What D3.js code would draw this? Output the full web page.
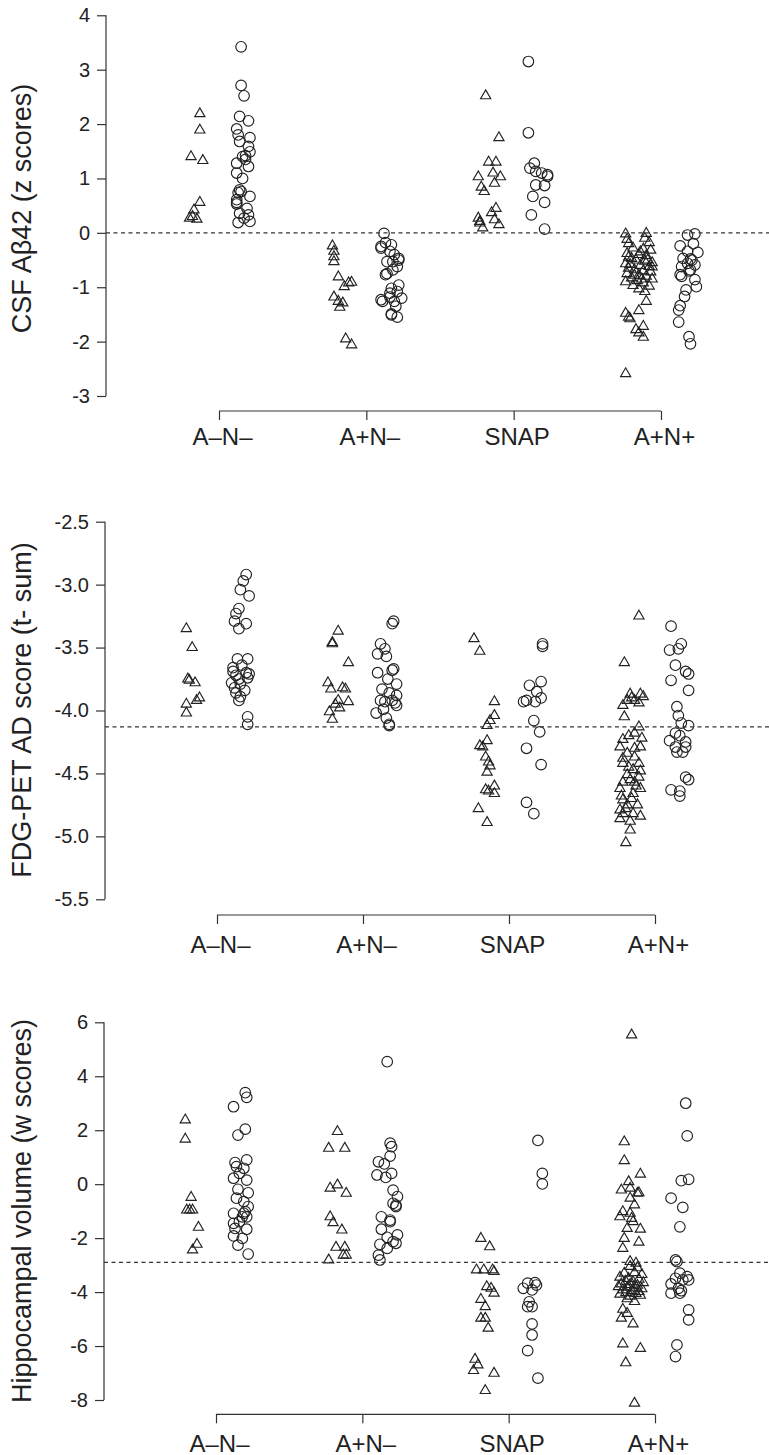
<!DOCTYPE html>
<html>
<head>
<meta charset="utf-8">
<script src="https://cdn.jsdelivr.net/npm/d3@7"></script>
<style>
  body { margin: 0; background: #fff; }
  svg { display: block; font-family: "Liberation Sans", Arial, Helvetica, sans-serif; }
</style>
</head>
<body>
<div id="chart"></div>
<script>
var groups = ["A\u2013N\u2013", "A+N\u2013", "SNAP", "A+N+"];

var yTitles = ["CSF A\u03b242 (z scores)", "FDG-PET AD score (t- sum)", "Hippocampal volume (w scores)"];
var yDomains = [[-3, 4], [-5.5, -2.5], [-8, 6]];
var yTicks = [
  [4, 3, 2, 1, 0, -1, -2, -3],
  [-2.5, -3.0, -3.5, -4.0, -4.5, -5.0, -5.5],
  [6, 4, 2, 0, -2, -4, -6, -8]
];
var cutoffs = [0, -4.13, -2.9];

// [jitter (in group units), value]
var csfTri = [
  [[-0.13,2.19],[-0.13,1.89],[-0.19,1.40],[-0.11,1.33],[-0.13,0.56],[-0.17,0.42],[-0.20,0.27],[-0.15,0.25],[-0.18,0.30]],
  [[-0.23,-0.24],[-0.22,-0.34],[-0.22,-0.44],[-0.22,-0.53],[-0.19,-0.81],[-0.15,-0.99],[-0.12,-0.92],[-0.10,-0.91],
   [-0.22,-1.18],[-0.19,-1.26],[-0.16,-1.29],[-0.18,-1.37],[-0.14,-1.95],[-0.10,-2.06]],
  [[-0.19,2.52],[-0.10,1.75],[-0.17,1.30],[-0.12,1.30],[-0.24,1.03],[-0.14,1.10],[-0.09,1.03],[-0.13,0.91],[-0.22,0.84],
   [-0.20,0.76],[-0.12,0.45],[-0.15,0.37],[-0.24,0.27],[-0.23,0.21],[-0.13,0.24],[-0.10,0.15],[-0.21,0.09],[-0.23,0.18]],
  [[-0.24,-0.02],[-0.10,-0.01],[-0.23,-0.12],[-0.11,-0.10],[-0.22,-0.20],[-0.08,-0.18],[-0.19,-0.28],[-0.12,-0.30],
   [-0.07,-0.32],[-0.23,-0.38],[-0.15,-0.40],[-0.10,-0.42],[-0.20,-0.47],[-0.17,-0.50],[-0.11,-0.52],[-0.06,-0.55],
   [-0.24,-0.57],[-0.14,-0.60],[-0.08,-0.62],[-0.22,-0.65],[-0.18,-0.68],[-0.12,-0.70],[-0.07,-0.72],[-0.23,-0.75],
   [-0.15,-0.78],[-0.10,-0.80],[-0.20,-0.83],[-0.06,-0.85],[-0.16,-0.88],[-0.24,-0.90],[-0.12,-0.92],[-0.19,-0.97],
   [-0.08,-0.98],[-0.15,-1.03],[-0.11,-1.08],[-0.22,-0.45],[-0.09,-0.50],[-0.18,-0.78],[-0.14,-0.35],[-0.06,-0.63],
   [-0.21,-0.58],[-0.13,-0.85],[-0.10,-1.26],[-0.15,-1.43],[-0.24,-1.48],[-0.22,-1.55],[-0.21,-1.58],[-0.12,-1.72],
   [-0.17,-1.78],[-0.15,-1.84],[-0.12,-1.92],[-0.24,-2.59]]
];
var csfCirc = [
  [[0.15,3.42],[0.15,2.71],[0.17,2.52],[0.14,2.14],[0.20,2.06],[0.12,1.91],[0.13,1.80],[0.21,1.75],[0.14,1.68],[0.20,1.59],
   [0.21,1.49],[0.18,1.42],[0.18,1.35],[0.20,1.22],[0.12,1.28],[0.12,1.10],[0.16,1.00],[0.14,0.79],[0.13,0.74],[0.21,0.67],
   [0.12,0.61],[0.12,0.53],[0.19,0.45],[0.14,0.36],[0.20,0.33],[0.13,0.19],[0.21,0.21],[0.15,0.76],[0.12,0.56],[0.17,0.27],[0.16,1.40]],
  [[0.12,-0.01],[0.13,-0.18],[0.10,-0.28],[0.17,-0.22],[0.16,-0.34],[0.19,-0.40],[0.22,-0.47],[0.18,-0.53],[0.14,-0.53],
   [0.21,-0.62],[0.18,-0.68],[0.14,-0.75],[0.22,-0.96],[0.17,-1.02],[0.21,-1.08],[0.10,-1.23],[0.16,-1.18],[0.19,-1.26],
   [0.24,-1.20],[0.20,-1.35],[0.17,-1.49],[0.21,-1.55],[0.13,-0.77],[0.22,-0.50],[0.16,-1.11],[0.11,-1.26],[0.17,-1.51],[0.10,-0.25]],
  [[0.10,3.15],[0.10,1.84],[0.11,1.19],[0.14,1.28],[0.15,1.13],[0.19,1.10],[0.23,1.07],[0.23,1.04],[0.15,0.88],[0.21,0.87],
   [0.13,0.67],[0.21,0.56],[0.12,0.33],[0.21,0.07]],
  [[0.18,-0.04],[0.23,-0.02],[0.13,-0.24],[0.22,-0.20],[0.18,-0.34],[0.25,-0.36],[0.15,-0.47],[0.20,-0.48],[0.18,-0.56],
   [0.23,-0.59],[0.14,-0.62],[0.20,-0.68],[0.13,-0.77],[0.23,-0.86],[0.24,-0.99],[0.17,-1.05],[0.16,-1.17],[0.13,-1.34],
   [0.12,-1.42],[0.12,-1.64],[0.19,-1.91],[0.20,-2.04],[0.21,-0.50],[0.19,-0.70],[0.14,-0.80]]
];

var fdgTri = [
  [[-0.21,-3.35],[-0.17,-3.50],[-0.20,-3.75],[-0.19,-3.76],[-0.15,-3.78],[-0.12,-3.90],[-0.14,-3.92],[-0.21,-3.95],[-0.21,-4.02]],
  [[-0.17,-3.37],[-0.21,-3.46],[-0.21,-3.47],[-0.10,-3.62],[-0.24,-3.78],[-0.22,-3.83],[-0.14,-3.82],[-0.12,-3.83],
   [-0.17,-3.92],[-0.10,-3.93],[-0.19,-3.95],[-0.16,-3.98],[-0.23,-4.01],[-0.21,-4.07]],
  [[-0.24,-3.43],[-0.20,-3.53],[-0.10,-3.93],[-0.10,-4.04],[-0.13,-4.08],[-0.15,-4.12],[-0.15,-4.24],[-0.20,-4.28],[-0.18,-4.29],
   [-0.16,-4.37],[-0.14,-4.41],[-0.13,-4.44],[-0.15,-4.49],[-0.16,-4.63],[-0.14,-4.64],[-0.10,-4.60],[-0.10,-4.66],[-0.21,-4.78],[-0.15,-4.89]],
  [[-0.11,-3.25],[-0.21,-3.62],[-0.17,-3.87],[-0.10,-3.87],[-0.19,-3.92],[-0.14,-3.92],[-0.22,-3.96],[-0.21,-4.05],[-0.11,-3.94],
   [-0.16,-3.90],[-0.08,-3.89],[-0.11,-4.13],[-0.14,-4.18],[-0.09,-4.22],[-0.22,-4.23],[-0.24,-4.29],[-0.10,-4.29],[-0.19,-4.34],
   [-0.22,-4.38],[-0.14,-4.37],[-0.22,-4.42],[-0.11,-4.42],[-0.15,-4.47],[-0.19,-4.51],[-0.11,-4.53],[-0.22,-4.57],[-0.14,-4.57],
   [-0.24,-4.62],[-0.10,-4.62],[-0.15,-4.66],[-0.22,-4.71],[-0.19,-4.75],[-0.24,-4.79],[-0.22,-4.82],[-0.15,-4.82],[-0.10,-4.84],
   [-0.24,-4.86],[-0.17,-4.95],[-0.20,-5.05],[-0.18,-4.45],[-0.13,-4.60],[-0.16,-4.70],[-0.20,-4.78],[-0.12,-4.75],[-0.17,-4.55],
   [-0.14,-4.30],[-0.18,-4.20],[-0.23,-4.68],[-0.10,-4.48],[-0.17,-4.88]]
];
var fdgCirc = [
  [[0.20,-2.92],[0.18,-2.97],[0.16,-3.04],[0.22,-3.09],[0.15,-3.19],[0.13,-3.23],[0.12,-3.29],[0.20,-3.31],[0.15,-3.35],
   [0.14,-3.59],[0.21,-3.59],[0.11,-3.66],[0.17,-3.64],[0.20,-3.70],[0.13,-3.72],[0.21,-3.74],[0.10,-3.78],[0.16,-3.79],
   [0.12,-3.82],[0.19,-3.84],[0.13,-3.86],[0.16,-3.89],[0.15,-3.92],[0.21,-4.05],[0.21,-4.11],[0.15,-3.75],[0.22,-3.71],[0.11,-3.69]],
  [[0.20,-3.31],[0.21,-3.29],[0.12,-3.47],[0.15,-3.51],[0.10,-3.55],[0.16,-3.57],[0.21,-3.67],[0.10,-3.70],[0.17,-3.75],
   [0.23,-3.79],[0.13,-3.83],[0.18,-3.86],[0.23,-3.88],[0.12,-3.92],[0.15,-3.93],[0.20,-3.92],[0.09,-4.02],[0.16,-4.06],
   [0.18,-4.12],[0.23,-3.96],[0.20,-3.68],[0.14,-3.99],[0.22,-3.94],[0.18,-4.11]],
  [[0.23,-3.47],[0.23,-3.49],[0.22,-3.77],[0.14,-3.80],[0.19,-3.85],[0.22,-3.90],[0.10,-3.93],[0.12,-3.92],[0.18,-3.93],
   [0.17,-4.08],[0.21,-4.17],[0.12,-4.30],[0.22,-4.43],[0.12,-4.73],[0.17,-4.82]],
  [[0.11,-3.33],[0.10,-3.52],[0.16,-3.51],[0.18,-3.47],[0.14,-3.64],[0.21,-3.69],[0.23,-3.71],[0.11,-3.76],[0.23,-3.84],
   [0.15,-3.97],[0.16,-4.04],[0.18,-4.10],[0.23,-4.12],[0.14,-4.18],[0.17,-4.20],[0.10,-4.24],[0.21,-4.25],[0.14,-4.29],
   [0.21,-4.29],[0.19,-4.33],[0.15,-4.33],[0.21,-4.53],[0.23,-4.55],[0.11,-4.63],[0.17,-4.64],[0.17,-4.68]]
];

var hipTri = [
  [[-0.21,2.38],[-0.21,1.67],[-0.17,-0.49],[-0.20,-0.96],[-0.18,-0.96],[-0.16,-0.96],[-0.12,-1.60],[-0.13,-2.23],[-0.16,-2.44]],
  [[-0.17,1.95],[-0.23,1.33],[-0.12,1.33],[-0.17,-0.03],[-0.22,-0.15],[-0.11,-0.34],[-0.22,-1.21],[-0.20,-1.43],[-0.14,-1.70],
   [-0.18,-2.34],[-0.12,-2.34],[-0.13,-2.63],[-0.11,-2.63],[-0.23,-2.81]],
  [[-0.19,-2.01],[-0.13,-2.32],[-0.22,-3.18],[-0.17,-3.18],[-0.11,-3.18],[-0.10,-3.24],[-0.15,-3.80],[-0.12,-3.86],[-0.10,-4.04],
   [-0.19,-4.27],[-0.16,-4.54],[-0.19,-4.97],[-0.16,-4.97],[-0.14,-5.34],[-0.23,-6.49],[-0.21,-6.70],[-0.24,-6.91],[-0.10,-7.01],[-0.16,-7.65]],
  [[-0.16,5.53],[-0.21,1.57],[-0.21,0.87],[-0.10,0.37],[-0.18,0.09],[-0.23,-0.22],[-0.17,-0.15],[-0.11,-0.32],[-0.17,-0.52],
   [-0.14,-0.77],[-0.22,-1.02],[-0.17,-1.08],[-0.24,-1.21],[-0.15,-1.39],[-0.19,-1.64],[-0.10,-1.67],[-0.21,-2.01],[-0.11,-2.15],
   [-0.22,-2.38],[-0.17,-2.87],[-0.13,-2.93],[-0.12,-0.34],[-0.16,-1.27],
   [-0.17,-3.05],[-0.12,-3.10],[-0.21,-3.30],[-0.14,-3.28],[-0.09,-3.35],[-0.24,-3.45],[-0.18,-3.50],[-0.11,-3.52],[-0.20,-3.60],
   [-0.15,-3.62],[-0.08,-3.65],[-0.23,-3.70],[-0.17,-3.72],[-0.12,-3.75],[-0.25,-3.80],[-0.19,-3.82],[-0.14,-3.85],[-0.09,-3.88],
   [-0.22,-3.92],[-0.16,-3.95],[-0.11,-3.98],[-0.20,-4.02],[-0.13,-4.05],[-0.24,-4.08],[-0.17,-4.15],[-0.10,-4.12],[-0.19,-4.25],
   [-0.14,-4.35],[-0.22,-4.64],[-0.19,-4.79],[-0.23,-4.97],[-0.15,-5.18],[-0.22,-5.92],[-0.10,-6.09],[-0.20,-6.62],[-0.14,-8.12]]
];
var hipCirc = [
  [[0.20,3.39],[0.21,3.22],[0.12,2.87],[0.20,2.04],[0.15,1.82],[0.21,0.90],[0.13,0.80],[0.14,0.65],[0.19,0.59],[0.16,0.40],
   [0.12,0.22],[0.21,0.15],[0.15,-0.19],[0.22,-0.32],[0.14,-0.52],[0.19,-0.65],[0.22,-0.83],[0.20,-1.02],[0.12,-1.08],[0.18,-1.21],
   [0.21,-1.21],[0.12,-1.45],[0.16,-1.39],[0.21,-1.67],[0.12,-1.92],[0.18,-2.01],[0.15,-2.26],[0.22,-2.59],[0.19,-1.08],[0.13,-1.64]],
  [[0.17,4.54],[0.19,1.52],[0.20,1.39],[0.19,1.04],[0.11,0.83],[0.15,0.75],[0.10,0.34],[0.16,0.25],[0.20,0.40],[0.21,-0.22],
   [0.24,-0.46],[0.21,-0.71],[0.23,-0.83],[0.13,-1.21],[0.19,-1.39],[0.13,-1.67],[0.24,-1.88],[0.17,-1.97],[0.21,-2.13],
   [0.12,-2.23],[0.17,-2.38],[0.11,-2.63],[0.12,-2.81],[0.19,-1.33],[0.23,-2.19],[0.23,-0.78]],
  [[0.20,1.62],[0.23,0.40],[0.23,0.01],[0.13,-3.67],[0.18,-3.65],[0.19,-3.74],[0.10,-3.86],[0.16,-3.92],[0.14,-4.36],
   [0.13,-4.54],[0.16,-4.54],[0.16,-5.18],[0.16,-5.59],[0.13,-6.17],[0.20,-7.19]],
  [[0.21,3.00],[0.22,1.79],[0.18,0.13],[0.23,0.18],[0.11,-0.52],[0.19,-0.86],[0.17,-1.58],[0.14,-2.81],[0.15,-2.87],
   [0.17,-3.30],[0.14,-3.49],[0.22,-3.43],[0.19,-3.55],[0.11,-3.70],[0.16,-3.86],[0.11,-4.04],[0.17,-4.04],[0.18,-3.95],
   [0.23,-3.55],[0.23,-4.66],[0.23,-5.03],[0.15,-5.96],[0.14,-6.39]]
];

var triangles = [csfTri, fdgTri, hipTri];
var circles = [csfCirc, fdgCirc, hipCirc];

// layout of each panel in page pixels
var panels = [
  { axisX: 106, top: 15.3, bottom: 396, left: 219, right: 661, bracketY: 411, labelY: 445 },
  { axisX: 105, top: 521.7, bottom: 899.3, left: 217, right: 655, bracketY: 915, labelY: 952.5 },
  { axisX: 104, top: 1022.3, bottom: 1400, left: 216, right: 655, bracketY: 1414.3, labelY: 1451.5 }
];
var titleCenters = [208.5, 710, 1211];

var W = 769, H = 1455;
var ink = "#222";

var svg = d3.select("#chart").append("svg")
  .attr("width", W)
  .attr("height", H);

svg.append("rect").attr("width", W).attr("height", H).attr("fill", "#fff");

// triangle outline, centroid at the point
function triPath(hw) {
  var top = hw * 1.155, base = hw * 0.577;
  return "M0," + (-top) + "L" + hw + "," + base + "L" + (-hw) + "," + base + "Z";
}

panels.forEach(function (p, k) {
  var g = svg.append("g");

  var y = d3.scaleLinear().domain(yDomains[k]).range([p.bottom, p.top]);
  var x = d3.scaleLinear().domain([0, 3]).range([p.left, p.right]);

  // y axis
  var fmt = k == 1 ? function (d) { return d.toFixed(1); } : function (d) { return String(d); };
  var yAxis = g.append("g")
    .attr("transform", "translate(" + p.axisX + ",0)")
    .call(d3.axisLeft(y).tickValues(yTicks[k]).tickSize(9).tickPadding(7).tickFormat(fmt));
  yAxis.select(".domain").attr("d", "M0," + p.top + "V" + p.bottom)
    .attr("stroke", "#333").attr("stroke-width", 1.2);
  yAxis.selectAll(".tick line").attr("stroke", "#333").attr("stroke-width", 1.2);
  yAxis.selectAll(".tick text")
    .attr("fill", ink)
    .style("font-size", "20px")
    .style("font-family", "'Liberation Sans', Arial, sans-serif");

  // group bracket
  var xAxis = g.append("g")
    .attr("transform", "translate(0," + p.bracketY + ")")
    .call(d3.axisBottom(x).tickValues([0, 1, 2, 3]).tickSize(9).tickSizeOuter(0)
      .tickFormat(function (d) { return groups[d]; }));
  xAxis.select(".domain").attr("d", "M" + p.left + ",0H" + p.right)
    .attr("stroke", "#333").attr("stroke-width", 1.2);
  xAxis.selectAll(".tick line").attr("stroke", "#333").attr("stroke-width", 1.2);
  xAxis.selectAll(".tick text")
    .attr("fill", ink)
    .attr("y", null).attr("dy", null)
    .attr("dx", 3)
    .attr("transform", "translate(0," + (p.labelY - p.bracketY) + ")")
    .style("font-size", "24px")
    .style("font-family", "'Liberation Sans', Arial, sans-serif");

  // y title
  g.append("text")
    .attr("transform", "translate(31," + titleCenters[k] + ") rotate(-90)")
    .attr("text-anchor", "middle")
    .attr("fill", ink)
    .style("font-size", "27px")
    .text(yTitles[k]);

  // points
  triangles[k].forEach(function (pts, gi) {
    g.append("g").selectAll("path")
      .data(pts)
      .enter()
      .append("path")
      .attr("d", triPath(5.1))
      .attr("transform", function (d) { return "translate(" + x(gi + d[0]) + "," + y(d[1]) + ")"; })
      .attr("fill", "none")
      .attr("stroke", ink)
      .attr("stroke-width", 1.15);
  });
  circles[k].forEach(function (pts, gi) {
    g.append("g").selectAll("circle")
      .data(pts)
      .enter()
      .append("circle")
      .attr("cx", function (d) { return x(gi + d[0]); })
      .attr("cy", function (d) { return y(d[1]); })
      .attr("r", 5.3)
      .attr("fill", "none")
      .attr("stroke", ink)
      .attr("stroke-width", 1.15);
  });

  // cutoff line
  g.append("line")
    .attr("x1", p.axisX).attr("x2", W)
    .attr("y1", y(cutoffs[k])).attr("y2", y(cutoffs[k]))
    .attr("stroke", "#333")
    .attr("stroke-width", 1.1)
    .attr("stroke-dasharray", "4,3.5");
});
</script>
</body>
</html>
